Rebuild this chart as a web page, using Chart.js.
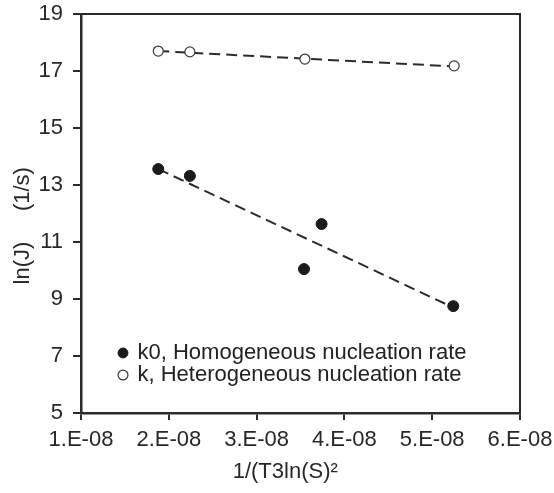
<!DOCTYPE html>
<html>
<head>
<meta charset="utf-8">
<script src="https://cdn.jsdelivr.net/npm/chart.js@4/dist/chart.umd.min.js"></script>
<style>
  html, body { margin: 0; padding: 0; background: #fff; }
  #wrap { width: 554px; height: 493px; position: relative; }
</style>
</head>
<body>
<div id="wrap"><canvas id="c" width="554" height="493"></canvas></div>
<script>
// ---- data ----
const homoX = [1.88e-8, 2.24e-8, 3.54e-8, 3.74e-8, 5.24e-8];
const homoY = [13.56, 13.32, 10.05, 11.63, 8.75];
const heteroX = [1.88e-8, 2.24e-8, 3.55e-8, 5.25e-8];
const heteroY = [17.70, 17.67, 17.42, 17.18];
// dashed trend lines (end points)
const homoTrendX = [1.88e-8, 5.24e-8];
const homoTrendY = [13.56, 8.70];
const heteroTrendX = [1.88e-8, 5.25e-8];
const heteroTrendY = [17.70, 17.16];
const xTickLabels = ['1.E-08', '2.E-08', '3.E-08', '4.E-08', '5.E-08', '6.E-08'];
const yTickValues = [5, 7, 9, 11, 13, 15, 17, 19];
const seriesNames = ['k0, Homogeneous nucleation rate', 'k, Heterogeneous nucleation rate'];
const xTitle = '1/(T3ln(S)\u00B2     ';
const yTitle = 'ln(J)     (1/s)    ';

const pts = (xs, ys) => xs.map((x, i) => ({ x: x, y: ys[i] }));
const ink = '#2b2b2b';
const fontFamily = '"Liberation Sans", Arial, sans-serif';

// keep the plot frame where the reference has it (no automatic label padding)
const noAutoPad = (s) => { s.paddingTop = 0; s.paddingBottom = 0; s.paddingLeft = 0; s.paddingRight = 0; };

const legendPlace = {
  id: 'legendPlace',
  afterLayout(chart) {
    const lg = chart.legend;
    const ca = chart.chartArea;
    if (!lg) return;
    lg.left = ca.left + 38.5;
    lg.right = ca.right;
    lg.top = ca.bottom - 71;
    lg.bottom = ca.bottom;
    if (typeof lg._draw === 'function') {
      lg.draw = function () { if (this.options.display) { this._draw(); } };
    }
  }
};

new Chart(document.getElementById('c'), {
  type: 'scatter',
  data: {
    datasets: [
      {
        label: seriesNames[0],
        data: pts(homoX, homoY),
        backgroundColor: '#1a1a1a',
        borderColor: '#1a1a1a',
        borderWidth: 1,
        pointRadius: 5.5,
        pointStyle: 'circle',
        showLine: false,
        order: 0
      },
      {
        label: seriesNames[1],
        data: pts(heteroX, heteroY),
        backgroundColor: '#ffffff',
        borderColor: '#3a3a3a',
        borderWidth: 1.2,
        pointRadius: 5,
        pointStyle: 'circle',
        showLine: false,
        order: 0
      },
      {
        label: 'trend k0',
        type: 'line',
        data: pts(homoTrendX, homoTrendY),
        borderColor: ink,
        borderWidth: 2,
        borderDash: [11, 6],
        pointRadius: 0,
        fill: false,
        order: 1
      },
      {
        label: 'trend k',
        type: 'line',
        data: pts(heteroTrendX, heteroTrendY),
        borderColor: ink,
        borderWidth: 2,
        borderDash: [11, 6],
        pointRadius: 0,
        fill: false,
        order: 1
      }
    ]
  },
  options: {
    responsive: false,
    animation: false,
    layout: { autoPadding: false, padding: { top: 14, right: 34, left: 0, bottom: 0 } },
    plugins: {
      tooltip: { enabled: false },
      legend: {
        position: 'chartArea',
        align: 'start',
        labels: {
          filter: (item) => item.datasetIndex < 2,
          usePointStyle: true,
          boxWidth: 7,
          boxHeight: 7,
          padding: 0,
          color: '#222',
          font: { family: fontFamily, size: 22 }
        }
      }
    },
    scales: {
      x: {
        type: 'linear',
        position: 'bottom',
        min: 1e-8,
        max: 6e-8,
        afterBuildTicks: (s) => { s.ticks = xTickLabels.map((_, i) => ({ value: (i + 1) * 1e-8 })); },
        afterFit: (s) => { s.height = 80; noAutoPad(s); },
        ticks: {
          autoSkip: false,
          maxRotation: 0,
          padding: 7,
          color: '#282828',
          font: { family: fontFamily, size: 22 },
          callback: (v, i) => xTickLabels[i]
        },
        grid: { drawOnChartArea: false, drawTicks: true, tickLength: 7, color: ink, lineWidth: 2 },
        border: { display: true, color: ink, width: 2.5 },
        title: {
          display: true,
          text: xTitle,
          color: '#282828',
          font: { family: fontFamily, size: 22 },
          padding: { top: 0, bottom: 8 }
        }
      },
      y: {
        type: 'linear',
        position: 'left',
        min: 5,
        max: 19,
        afterBuildTicks: (s) => { s.ticks = yTickValues.map(v => ({ value: v })); },
        afterFit: (s) => { s.width = 81; noAutoPad(s); },
        ticks: {
          padding: 10,
          color: '#282828',
          font: { family: fontFamily, size: 22 },
          callback: (v) => String(v)
        },
        grid: { drawOnChartArea: false, drawTicks: true, tickLength: 8, color: ink, lineWidth: 2 },
        border: { display: true, color: ink, width: 2.5 },
        title: {
          display: true,
          text: yTitle,
          color: '#282828',
          font: { family: fontFamily, size: 22 },
          padding: { top: 10, bottom: 0 }
        }
      },
      x2: {
        type: 'linear',
        position: 'top',
        min: 1e-8,
        max: 6e-8,
        afterFit: (s) => { s.height = 0; noAutoPad(s); },
        ticks: { display: false },
        grid: { display: false, drawTicks: false },
        border: { display: true, color: ink, width: 2 }
      },
      y2: {
        type: 'linear',
        position: 'right',
        min: 5,
        max: 19,
        afterFit: (s) => { s.width = 0; noAutoPad(s); },
        ticks: { display: false },
        grid: { display: false, drawTicks: false },
        border: { display: true, color: ink, width: 2 }
      }
    }
  },
  plugins: [legendPlace]
});
</script>
</body>
</html>
